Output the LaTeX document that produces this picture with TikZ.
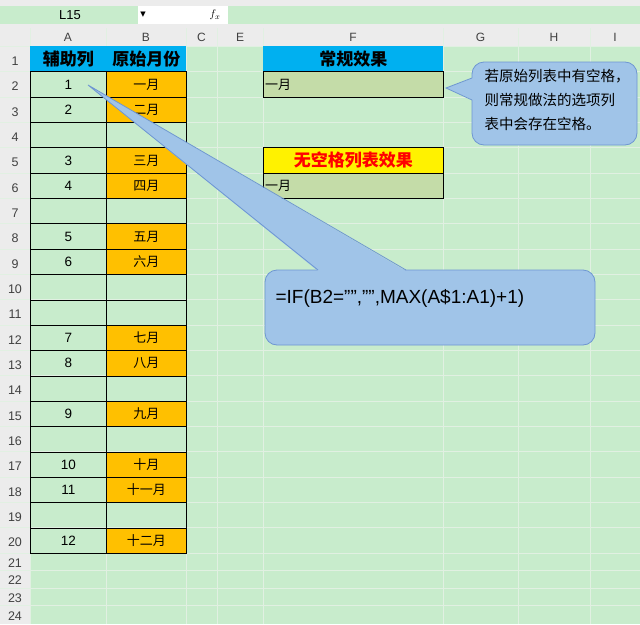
\documentclass[tikz,border=0pt]{standalone}
\usepackage{fontspec}
\setmainfont{Liberation Sans}
\newfontfamily\cjk{Noto Sans CJK SC}
\newfontfamily\symb{DejaVu Sans}
\usetikzlibrary{positioning}
\definecolor{sheet}{RGB}{200,236,204}
\definecolor{gridl}{RGB}{225,240,226}
\definecolor{hdrblue}{RGB}{0,176,240}
\definecolor{monthor}{RGB}{255,192,0}
\definecolor{olive}{RGB}{196,220,168}
\definecolor{callfill}{RGB}{160,196,232}
\definecolor{calldraw}{RGB}{110,150,210}
\definecolor{barbg}{RGB}{236,236,236}
\tikzset{
  cell/.style={draw=black, line width=0.8pt, minimum width=#1, minimum height=25.35pt, inner sep=0pt, font=\cjk\fontsize{13}{13}\selectfont},
  rowlab/.style={font=\fontsize{12.5}{12}\selectfont, text=black!75},
  collab/.style={font=\fontsize{12}{12}\selectfont, text=black!75},
  headcell/.style={cell=#1, draw=none, fill=hdrblue, font=\cjk\bfseries\fontsize{17}{17}\selectfont, anchor=north west},
  callout/.style={fill=callfill, draw=calldraw, line width=0.8pt},
}
\newcommand{\rowtop}[1]{46+(#1-1)*25.35}
\begin{document}
\begin{tikzpicture}[x=1pt, y=-1pt]
\useasboundingbox (0,0) rectangle (640,624);
% sheet
\fill[sheet] (0,0) rectangle (640,624);
\fill[barbg] (0,0) rectangle (640,28);
\fill[sheet] (0,6) rectangle (640,24);
\fill[white] (138,6) rectangle (228,24);
\node[font=\fontsize{13}{13}\selectfont] (namebox) at (70,15) {L15};
\node[font=\symb\fontsize{7}{7}\selectfont] (drop) at (143,15) {▼};
\node[font=\itshape\bfseries\fontsize{11}{11}\selectfont] (fx) at (215,15) {$f_x$};
\fill[barbg] (0,28) rectangle (640,46);
\fill[barbg] (0,46) rectangle (30,624);
% grid
\foreach \gx in {30,106,186,217,263,443,518,590}
  \draw[gridl] (\gx,28) -- (\gx,624);
\foreach \r in {1,...,21}
  \draw[gridl] (0,{\rowtop{\r}}) -- (640,{\rowtop{\r}});
\foreach \gy in {570.5,588,605.5}
  \draw[gridl] (0,\gy) -- (640,\gy);
% column labels
\foreach \c/\cx in {A/68,B/146,C/201.5,E/240,F/353,G/480.5,H/554,I/615}
  \node[collab] (col\c) at (\cx,37) {\c};
% row labels
\foreach \r in {1,...,20}
  \node[rowlab] (row\r) at (15,{\rowtop{\r}+15}) {\r};
\foreach \r/\ry in {21/563,22/580,23/598,24/616}
  \node[rowlab] (row\r) at (15,\ry) {\r};
% headers
\node[headcell=76pt] (hA) at (30,46) {辅助列};
\node[headcell=80pt] (hB) at (106,46) {原始月份};
% data columns
\foreach \r in {2,...,20}{
  \node[cell=76pt, anchor=north west] (a\r) at (30,{\rowtop{\r}}) {};
  \node[cell=80pt, anchor=north west] (b\r) at (106,{\rowtop{\r}}) {};
}
\foreach \r/\n/\m in {2/1/一月,3/2/二月,5/3/三月,6/4/四月,8/5/五月,9/6/六月,12/7/七月,13/8/八月,15/9/九月,17/10/十月,18/11/十一月,20/12/十二月}{
  \node[font=\fontsize{13.5}{13}\selectfont] at (a\r) {\n};
  \node[cell=80pt, fill=monthor] at (b\r) {\m};
}
% results
\node[headcell=180pt] (fHead) at (263,46) {常规效果};
\node[cell=180pt, fill=olive, anchor=north west] (fOne) at (263,{\rowtop{2}}) {};
\node[font=\cjk\fontsize{13}{13}\selectfont, anchor=west, inner sep=2pt] at (fOne.west) {一月};
\node[headcell=180pt, draw=black, fill=yellow, text=red] (gHead) at (263,{\rowtop{5}}) {无空格列表效果};
\node[cell=180pt, fill=olive, anchor=north west] (gOne) at (263,{\rowtop{6}}) {};
\node[font=\cjk\fontsize{13}{13}\selectfont, anchor=west, inner sep=2pt] at (gOne.west) {一月};
% callouts
\coordinate (tipA) at (88,85);
\coordinate (tipF) at (446,88);
\draw[callout, rounded corners=12pt] (265,270) rectangle (595,345);
\fill[callfill] (318,271) -- (tipA) -- (406,271) -- cycle;
\draw[calldraw, line width=0.8pt] (318,270) -- (tipA) -- (406,270);
\draw[callout, rounded corners=12pt] (472,62) rectangle (637,145);
\fill[callfill] (473,78) -- (tipF) -- (473,100) -- cycle;
\draw[calldraw, line width=0.8pt] (472,78) -- (tipF) -- (472,100);
\node[font=\fontsize{19}{19}\selectfont, anchor=west] (formula) at (272,298) {=IF(B2="","",MAX(A\$1:A1)+1)};
\node[font=\cjk\fontsize{14.5}{24}\selectfont, align=left, anchor=north west] (note) at (481,66) {若原始列表中有空格，\\则常规做法的选项列\\表中会存在空格。};
\end{tikzpicture}
\end{document}
